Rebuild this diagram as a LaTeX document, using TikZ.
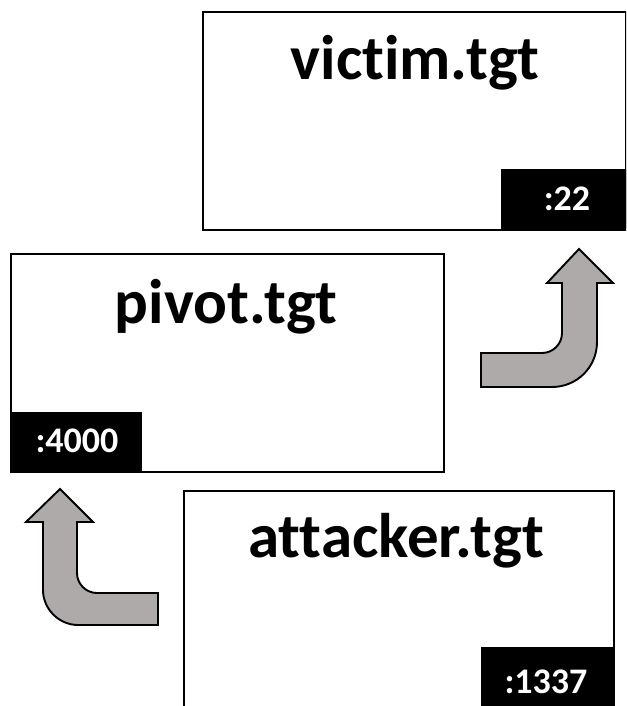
\documentclass[tikz,border=0pt]{standalone}
\usepackage{fontspec}
\setmainfont{Carlito}[Ligatures=NoCommon,RawFeature=-liga]
\definecolor{arrowgray}{RGB}{174,170,170}
\begin{document}
\begin{tikzpicture}[x=1pt,y=-1pt,
  hostbox/.style={draw=black,line width=1.8pt,fill=white,rectangle,inner sep=0pt,anchor=north west},
  portbox/.style={fill=black,rectangle,inner sep=0pt,anchor=north west},
  titletext/.style={font=\fontsize{63}{70}\selectfont\bfseries,anchor=base,inner sep=0pt},
  porttext/.style={font=\fontsize{36}{40}\selectfont\bfseries,text=white,anchor=base,inner sep=0pt},
  blockarrow/.style={draw=black,line width=1.9pt,fill=arrowgray,line join=miter}]
\useasboundingbox (0,0) rectangle (626,706);
\clip (0,0) rectangle (626,706);
\fill[white] (0,0) rectangle (626,706);
% boxes
\node[hostbox,minimum width=423pt,minimum height=218pt] (victim) at (202,11) {};
\node[portbox,minimum width=126pt,minimum height=60pt] (victimport) at (501,169) {};
\node[titletext] (victimtitle) at (415,80) {victim.tgt};
\node[porttext] (victimporttext) at (567,210) {:22};

\node[hostbox,minimum width=433pt,minimum height=218pt] (pivot) at (10,253) {};
\node[portbox,minimum width=132pt,minimum height=59pt] (pivotport) at (10,412) {};
\node[titletext] (pivottitle) at (226,323) {pivot.tgt};
\node[porttext] (pivotporttext) at (77,452) {:4000};

\node[hostbox,minimum width=430pt,minimum height=240pt] (attacker) at (183,490) {};
\node[portbox,minimum width=132pt,minimum height=70pt] (attackerport) at (481,647) {};
\node[titletext] (attackertitle) at (396,557) {attacker.tgt};
\node[porttext] (attackerporttext) at (546,693) {:1337};

% right arrow (pivot -> victim)
\draw[blockarrow] (481,353) -- (542,353) .. controls (553,353) and (562,344) .. (562,333)
  -- (562,283) -- (547,283) -- (579,249) -- (613,283) -- (597,283) -- (597,342)
  .. controls (597,367) and (577,387) .. (552,387) -- (481,387) -- cycle;
% left arrow (attacker -> pivot)
\draw[blockarrow] (158,593) -- (97,593) .. controls (86,593) and (77,584) .. (77,573)
  -- (77,522) -- (93,522) -- (60,489) -- (26,522) -- (43,522) -- (43,590)
  .. controls (43,609) and (59,625) .. (78,625) -- (158,625) -- cycle;
\end{tikzpicture}
\end{document}
